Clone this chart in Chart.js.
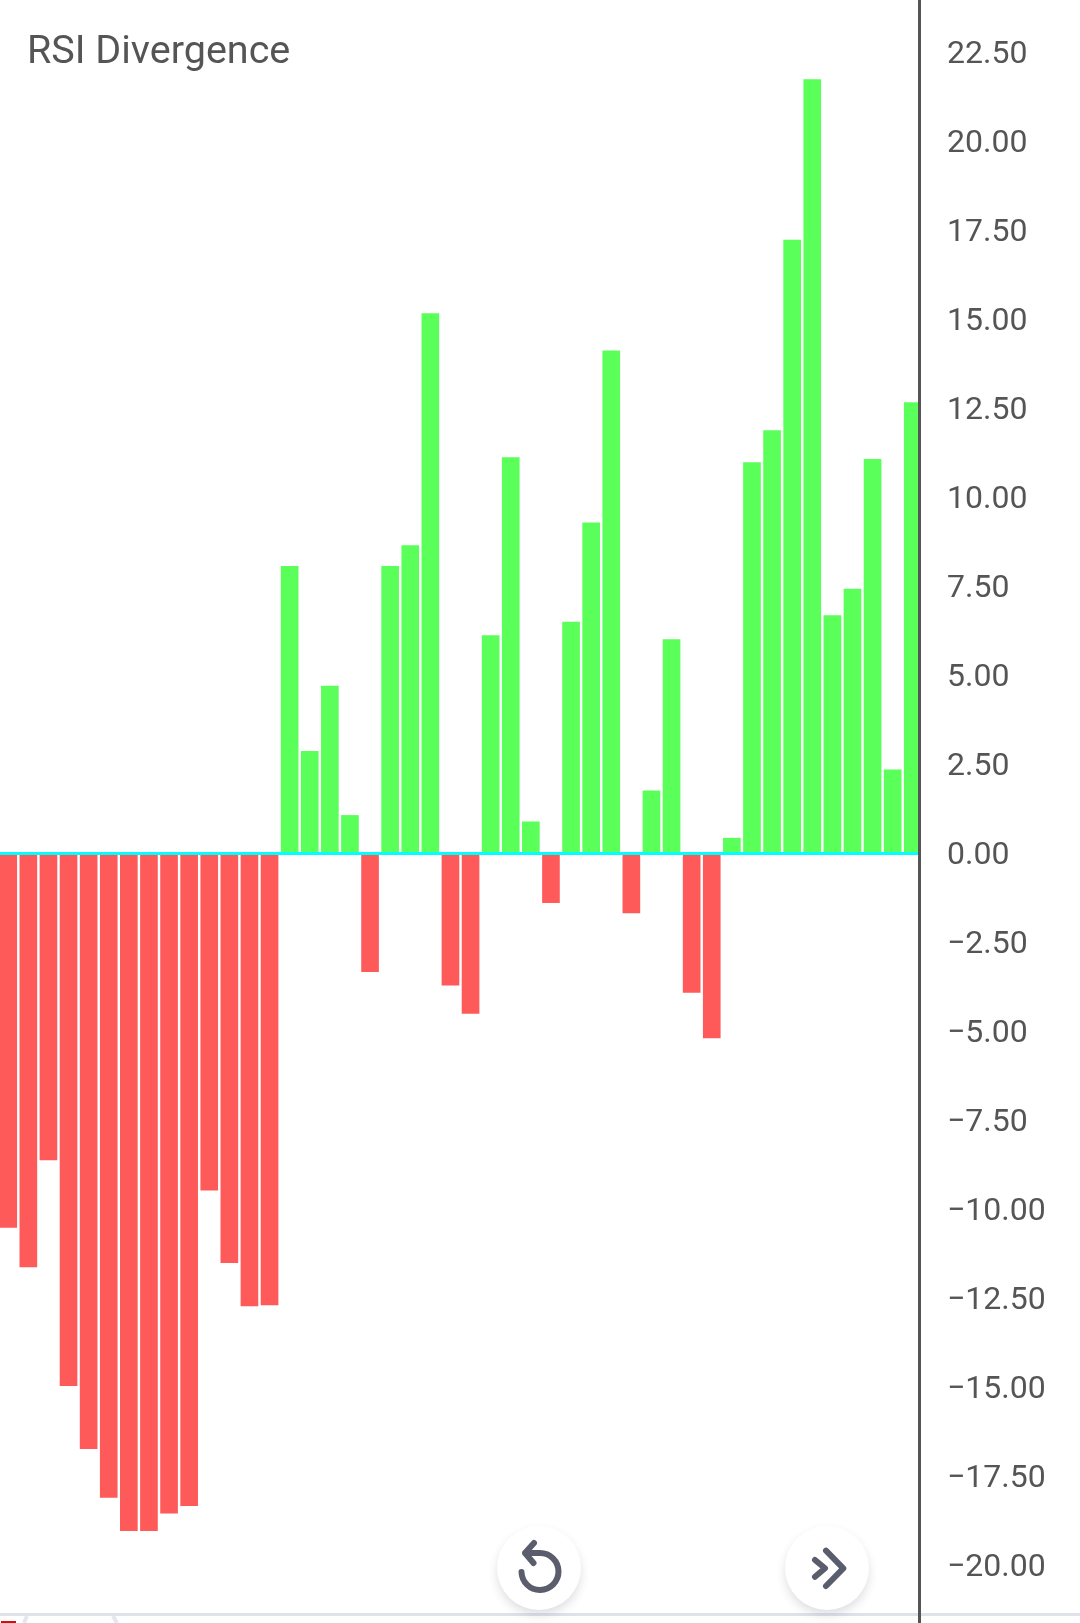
<!DOCTYPE html>
<html>
<head>
<meta charset="utf-8">
<title>RSI Divergence</title>
<script src="https://cdn.jsdelivr.net/npm/chart.js@4/dist/chart.umd.js"></script>
<style>
    html, body { margin: 0; padding: 0; background: #fff; }
    #wrap { position: relative; width: 1080px; height: 1623px; overflow: hidden; }
    #rule { position: absolute; left: 0; top: 1613px; width: 1080px; height: 3px; background: #e0e2ea; }
    #chart { position: absolute; left: 0; top: 0; }
    #title { position: absolute; left: 27px; top: 28px; font: 39.5px/44px Roboto, sans-serif; color: #555; white-space: nowrap; }
    .btn { position: absolute; top: 1526px; width: 84px; height: 84px; border-radius: 50%; background: #fff; box-shadow: 0 5px 10px rgba(60,60,80,0.16); }
    .btn svg { position: absolute; left: 1px; top: 0; }
    .btn path { fill: none; stroke: #5a5d6c; stroke-width: 6; stroke-linecap: round; stroke-linejoin: round; }
    #foot { position: absolute; left: 0; top: 1616px; }
</style>
</head>
<body>
<div id="wrap">
    <div id="rule"></div>
    <canvas id="chart" width="1080" height="1623"></canvas>
    <div id="title">RSI Divergence</div>
    <div class="btn" style="left:497px">
        <svg width="84" height="84"><path d="M36 17 L27 27 L35.500 37 M27 27 H42 A18.500 18.500 0 1 1 23.500 46"/></svg>
    </div>
    <div class="btn" style="left:785px">
        <svg width="84" height="84"><path d="M29 34 L39 42.300 L29 50.700 M40 24.700 L57.300 42.300 L40 60"/></svg>
    </div>
    <svg id="foot" width="160" height="7">
        <rect x="1" y="5" width="15" height="2" fill="#d40f0f"></rect>
        <path d="M27 0 L24 7 M113 0 L117 7" stroke="#e6e7ee" stroke-width="4" fill="none"></path>
    </svg>
</div>
<script>
// bar slots, left to right
const slots = [0, 1, 2, 3, 4, 5, 6, 7, 8, 9, 10, 11, 12, 13, 14, 15, 16, 17, 18, 19, 20, 21, 22,
    23, 24, 25, 26, 27, 28, 29, 30, 31, 32, 33, 34, 35, 36, 37, 38, 39, 40, 41, 42, 43, 44, 45];

const divergence = [-10.50, -11.61, -8.61, -14.95, -16.72, -18.09, -19.02, -19.02, -18.53, -18.32,
    -9.46, -11.49, -12.71, -12.68, 8.07, 2.87, 4.70, 1.07, -3.32, 8.07,
    8.65, 15.17, -3.70, -4.49, 6.12, 11.12, 0.89, -1.38, 6.50, 9.29,
    14.12, -1.67, 1.76, 6.01, -3.90, -5.18, 0.43, 10.98, 11.88, 17.23,
    21.74, 6.68, 7.43, 11.07, 2.35, 12.67];

const tickValues = [22.5, 20, 17.5, 15, 12.5, 10, 7.5, 5, 2.5, 0,
    -2.5, -5, -7.5, -10, -12.5, -15, -17.5, -20];

const GREEN = '#5aff5a';
const RED = '#ff5a5a';
const ZERO_LINE = '#00ffff';
const AXIS = '#555555';

new Chart(document.getElementById('chart').getContext('2d'), {
    type: 'bar',
    data: {
        labels: slots,
        datasets: [{
            label: 'RSI Divergence',
            data: divergence,
            backgroundColor: c => c.raw >= 0 ? GREEN : RED,
            borderWidth: 0,
            barThickness: 17
        }]
    },
    options: {
        responsive: false, animation: false,
        layout: { padding: 0 },
        plugins: { legend: { display: false }, title: { display: false }, tooltip: { enabled: false } },
        scales: {
            x: {
                type: 'linear', display: false, offset: false,
                min: -0.41, max: 45.31,
                grid: { display: false }
            },
            y: {
                position: 'right', min: -21.615, max: 23.975,
                afterBuildTicks: s => { s.ticks = tickValues.map(v => ({ value: v })); },
                afterFit: s => { s.width = 161; s.paddingTop = 0; s.paddingBottom = 0; },
                // border has to draw after the grid, it reads its position from the grid pass
                border: { display: true, color: AXIS, width: 3, z: 2 },
                grid: {
                    z: 1, drawTicks: false,
                    color: c => c.tick && c.tick.value === 0 ? ZERO_LINE : 'transparent',
                    lineWidth: 3
                },
                ticks: {
                    autoSkip: false, padding: 28, align: 'center', color: AXIS, labelOffset: 2,
                    font: { family: 'Roboto', size: 32 },
                    callback: v => v.toFixed(2).replace('-', '\u2212')
                }
            }
        }
    }
});
</script>
</body>
</html>
